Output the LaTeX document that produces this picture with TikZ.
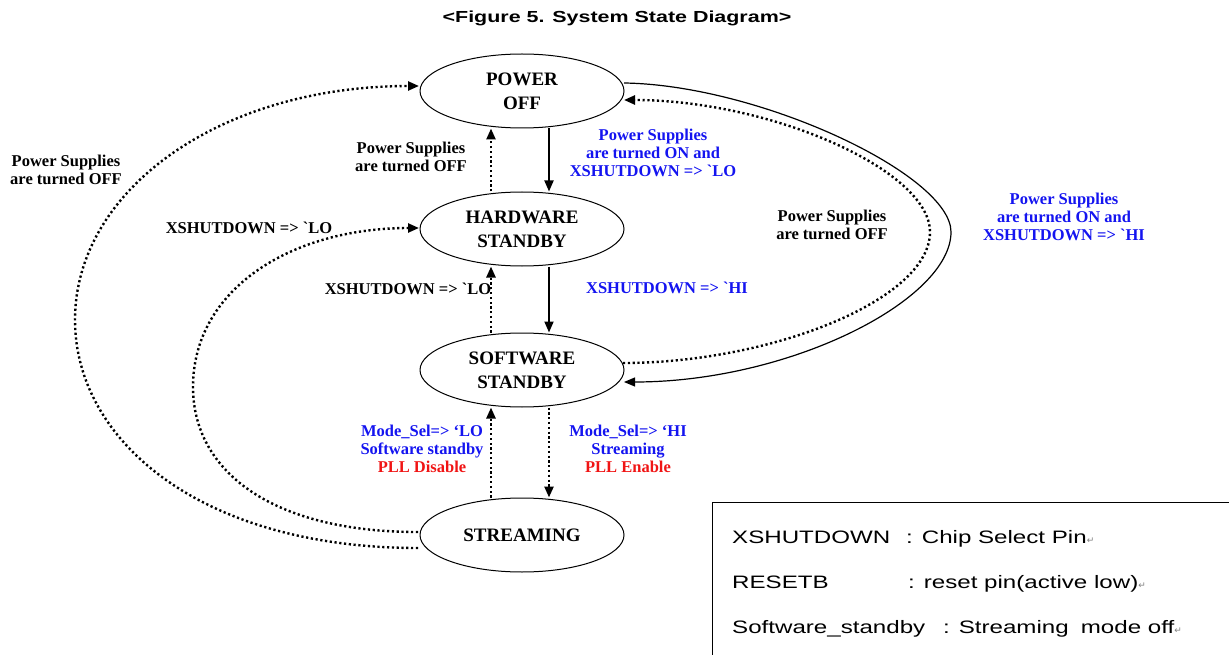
\documentclass[tikz,border=0pt]{standalone}
\usepackage{fontspec}
\setmainfont{Liberation Serif}
\newfontfamily\rawserif{Liberation Serif}
\newfontfamily\widearial[FakeStretch=1.34]{Liberation Sans}
\newfontfamily\symfont{DejaVu Sans}
\usetikzlibrary{arrows.meta,shapes.geometric}
\definecolor{lblue}{RGB}{20,20,240}
\definecolor{lred}{RGB}{240,20,20}
\newcommand{\parmark}{{\symfont\fontsize{9}{9}\selectfont\textcolor{gray}{↵}}}
\newcommand{\grv}{{\rawserif\bfseries `}}
\begin{document}
\begin{tikzpicture}[x=1pt,y=-1pt,
  state/.style={ellipse,draw,line width=1pt,minimum width=204pt,minimum height=74pt,
    align=center,font=\bfseries\fontsize{19}{24}\selectfont,inner sep=0pt},
  lbl/.style={align=center,font=\bfseries\fontsize{16.5}{18}\selectfont,inner sep=0pt},
  tip/.style={-{Triangle[length=11pt,width=9pt]}},
  solidarr/.style={tip,line width=1.8pt},
  dotarr/.style={tip,line width=2.4pt,dash pattern=on 2.2pt off 2.6pt},
  legendtxt/.style={anchor=base west,font=\widearial\fontsize{18}{20}\selectfont,inner sep=0pt}]
\useasboundingbox (0,0) rectangle (1229,655);

% title
\node[font=\widearial\bfseries\fontsize{16}{18}\selectfont] (title) at (617,18) {<Figure 5. System State Diagram>};

% states
\node[state] (pwr) at (522,91) {POWER\\OFF};
\node[state] (hw) at (522,229) {HARDWARE\\STANDBY};
\node[state] (sw) at (522,370) {SOFTWARE\\STANDBY};
\node[state] (st) at (522,535) {STREAMING};

% vertical transitions
\draw[solidarr] (pwr.south -| 549,0) -- (hw.north -| 549,0);
\draw[dotarr] (hw.north -| 491,0) -- (pwr.south -| 491,0);
\draw[solidarr] (hw.south -| 549,0) -- (sw.north -| 549,0);
\draw[dotarr] (sw.north -| 491,0) -- (hw.south -| 491,0);
\draw[dotarr] (sw.south -| 549,0) -- (st.north -| 549,0);
\draw[dotarr] (st.north -| 491,0) -- (sw.south -| 491,0);

% right-hand loops
\coordinate (pwrR1) at (624,83);
\coordinate (pwrR2) at (624,100);
\coordinate (swR1) at (623,363);
\coordinate (swR2) at (624,382);
\draw[tip,line width=1.2pt] (pwrR1) .. controls (760,85) and (951,175) .. (951,232)
  .. controls (951,300) and (790,382) .. (swR2);
\draw[dotarr] (swR1) .. controls (770,363) and (930,300) .. (930,232)
  .. controls (930,170) and (770,100) .. (pwrR2);

% left-hand loops
\coordinate (stL1) at (418,548);
\coordinate (stL2) at (418,532);
\coordinate (pwrL) at (419,86);
\coordinate (hwL) at (419,228);
\draw[dotarr] (stL1) .. controls (200,548) and (75,440) .. (75,320)
  .. controls (75,190) and (220,86) .. (pwrL);
\draw[dotarr] (stL2) .. controls (270,532) and (193,470) .. (193,387)
  .. controls (193,290) and (290,228) .. (hwL);

% transition labels
\node[lbl] (l1) at (66,170) {Power Supplies\\are turned OFF};
\node[lbl] (l2) at (411,157) {Power Supplies\\are turned OFF};
\node[lbl,text=lblue] (l3) at (653,153) {Power Supplies\\are turned ON and\\XSHUTDOWN => \grv LO};
\node[lbl] (l4) at (249,228) {XSHUTDOWN => \grv LO};
\node[lbl] (l5) at (408,289) {XSHUTDOWN => \grv LO};
\node[lbl,text=lblue] (l6) at (667,288) {XSHUTDOWN => \grv HI};
\node[lbl] (l7) at (832,225) {Power Supplies\\are turned OFF};
\node[lbl,text=lblue] (l8) at (1064,217) {Power Supplies\\are turned ON and\\XSHUTDOWN => \grv HI};
\node[lbl] (l9) at (422,449) {\textcolor{lblue}{Mode\_Sel=> `LO}\\\textcolor{lblue}{Software standby}\\\textcolor{lred}{PLL Disable}};
\node[lbl] (l10) at (628,449) {\textcolor{lblue}{Mode\_Sel=> `HI}\\\textcolor{lblue}{Streaming}\\\textcolor{lred}{PLL Enable}};

% legend
\draw[line width=1pt] (1240,502) -- (712,502) -- (712,660);
\node[legendtxt] (g1) at (732,543.5) {XSHUTDOWN};
\node[legendtxt] (g1b) at (906,543.5) {: Chip Select Pin\parmark};
\node[legendtxt] (g2) at (732,588.5) {RESETB};
\node[legendtxt] (g2b) at (908,588.5) {: reset pin(active low)\parmark};
\node[legendtxt] (g3) at (732,633.5) {Software\_standby};
\node[legendtxt] (g3b) at (943,633.5) {: Streaming\hspace{0.3em} mode off\parmark};
\end{tikzpicture}
\end{document}
